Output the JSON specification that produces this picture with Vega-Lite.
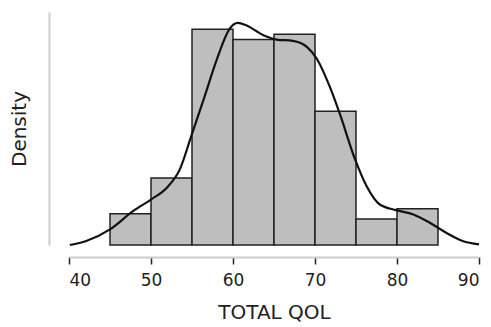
{
  "$schema": "https://vega.github.io/schema/vega-lite/v6.json",
  "width": 410,
  "height": 233,
  "autosize": {"type": "none"},
  "padding": {"left": 69, "top": 12, "right": 12, "bottom": 82},
  "background": "white",
  "config": {
    "view": {"stroke": null},
    "font": "DejaVu Sans"
  },
  "datasets": {
    "bars": [
      {"bin_start": 45, "bin_end": 50, "density": 94},
      {"bin_start": 50, "bin_end": 55, "density": 202},
      {"bin_start": 55, "bin_end": 60, "density": 650},
      {"bin_start": 60, "bin_end": 65, "density": 619},
      {"bin_start": 65, "bin_end": 70, "density": 635},
      {"bin_start": 70, "bin_end": 75, "density": 403},
      {"bin_start": 75, "bin_end": 80, "density": 78},
      {"bin_start": 80, "bin_end": 85, "density": 109}
    ],
    "curve": [
      {"x": 40.1, "y": 0},
      {"x": 42.1, "y": 12},
      {"x": 45, "y": 47},
      {"x": 47.8, "y": 102},
      {"x": 50, "y": 137},
      {"x": 51.9, "y": 172},
      {"x": 53.5, "y": 227},
      {"x": 54.9, "y": 327},
      {"x": 56.4, "y": 437},
      {"x": 58, "y": 557},
      {"x": 59.6, "y": 652},
      {"x": 60.6, "y": 669},
      {"x": 61.6, "y": 662},
      {"x": 63.7, "y": 632},
      {"x": 65.3, "y": 619},
      {"x": 67.3, "y": 615},
      {"x": 69, "y": 597},
      {"x": 70.2, "y": 562},
      {"x": 71.8, "y": 477},
      {"x": 73, "y": 397},
      {"x": 74.9, "y": 257},
      {"x": 76.3, "y": 177},
      {"x": 77.9, "y": 122},
      {"x": 79.9, "y": 105},
      {"x": 82, "y": 92},
      {"x": 84, "y": 67},
      {"x": 86, "y": 37},
      {"x": 88, "y": 12},
      {"x": 90, "y": 2}
    ]
  },
  "layer": [
    {
      "data": {"name": "bars"},
      "mark": {"type": "rect", "fill": "#bebebe", "stroke": "#222222", "strokeWidth": 1.5},
      "encoding": {
        "x": {
          "field": "bin_start", "type": "quantitative",
          "scale": {"domain": [40, 90], "nice": false, "zero": false},
          "axis": {
            "title": "TOTAL QOL", "values": [40, 50, 60, 70, 80, 90],
            "offset": 12, "grid": false,
            "domainColor": "#cccccc", "domainWidth": 2,
            "tickColor": "#222222", "tickSize": 7, "tickWidth": 1.5,
            "labelFontSize": 17, "labelColor": "#222222", "labelPadding": 8,
            "titleFontSize": 20, "titleFontWeight": "normal", "titleColor": "#222222", "titlePadding": 14
          }
        },
        "x2": {"field": "bin_end"},
        "y": {
          "field": "density", "type": "quantitative",
          "scale": {"domain": [0, 702], "nice": false},
          "axis": {
            "title": "Density", "labels": false, "ticks": false, "grid": false,
            "offset": 20, "domainColor": "#cccccc", "domainWidth": 2,
            "titleFontSize": 20, "titleFontWeight": "normal", "titleColor": "#222222", "titlePadding": 20
          }
        },
        "y2": {"datum": 0}
      }
    },
    {
      "data": {"name": "curve"},
      "mark": {"type": "line", "color": "#111111", "strokeWidth": 2.2, "interpolate": "monotone"},
      "encoding": {
        "x": {"field": "x", "type": "quantitative"},
        "y": {"field": "y", "type": "quantitative"}
      }
    }
  ]
}
